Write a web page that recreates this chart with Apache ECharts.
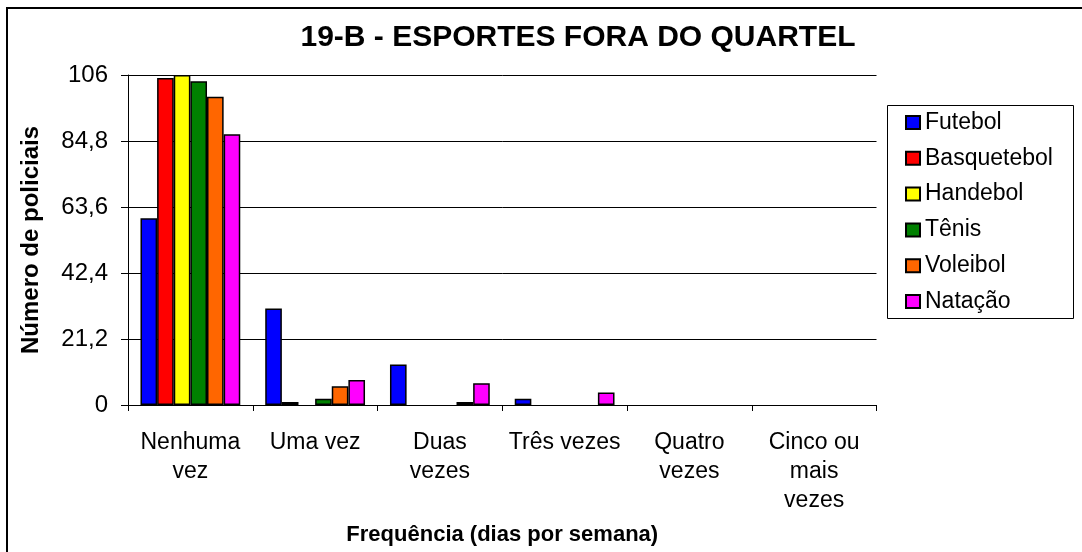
<!DOCTYPE html>
<html>
<head>
<meta charset="utf-8">
<script src="https://cdn.jsdelivr.net/npm/echarts@6/dist/echarts.min.js"></script>
<style>
  html, body { margin: 0; padding: 0; background: #fff; }
  #chart { width: 1082px; height: 552px; }
</style>
</head>
<body>
<div id="chart"></div>
<script>
// categorias (frequência) e séries por esporte
const categories = ["Nenhuma\nvez", "Uma vez", "Duas\nvezes", "Três vezes", "Quatro\nvezes", "Cinco ou\nmais\nvezes"];
const futebol = [60, 31, 13, 2, 0, 0];
const basquetebol = [105, 1, 0, 0, 0, 0];
const handebol = [106, 0, 0, 0, 0, 0];
const tenis = [104, 2, 0, 0, 0, 0];
const voleibol = [99, 6, 1, 0, 0, 0];
const natacao = [87, 8, 7, 4, 0, 0];
const yTicks = [0, 21.2, 42.4, 63.6, 84.8, 106];

const FONT = "Liberation Sans";

const seriesDefs = [
  { name: "Futebol", data: futebol, color: "#0000ff" },
  { name: "Basquetebol", data: basquetebol, color: "#ff0000" },
  { name: "Handebol", data: handebol, color: "#ffff00" },
  { name: "Tênis", data: tenis, color: "#008000" },
  { name: "Voleibol", data: voleibol, color: "#ff6600" },
  { name: "Natação", data: natacao, color: "#ff00ff" },
];

const chart = echarts.init(document.getElementById("chart"));

const option = {
  animation: false,
  backgroundColor: "#fff",
  textStyle: { fontFamily: FONT, color: "#000" },
  graphic: [
    {
      type: "rect",
      shape: { x: 7, y: 8, width: 1100, height: 600 },
      style: { fill: "none", stroke: "#000", lineWidth: 2 },
      z: 0,
    },
    {
      type: "rect",
      shape: { x: 887.5, y: 105.5, width: 186, height: 213 },
      style: { fill: "#fff", stroke: "#000", lineWidth: 1 },
      z: 0,
    },
    {
      type: "text",
      x: 578,
      y: 38,
      style: {
        text: "19-B - ESPORTES FORA DO QUARTEL",
        fontFamily: FONT,
        fontSize: 30,
        fontWeight: "bold",
        fill: "#000",
        textAlign: "center",
        textVerticalAlign: "middle",
      },
    },
  ],
  legend: {
    orient: "vertical",
    left: 905,
    top: 111,
    padding: 0,
    itemWidth: 14,
    itemHeight: 13,
    itemGap: 12.8,
    icon: "rect",
    textStyle: { fontFamily: FONT, fontSize: 23, lineHeight: 23, color: "#000" },
    data: seriesDefs.map((s) => s.name),
  },
  grid: { left: 128, right: 205.5, top: 75, bottom: 147, outerBoundsMode: "none" },
  xAxis: {
    type: "category",
    data: categories,
    name: "Frequência (dias por semana)",
    nameLocation: "middle",
    nameGap: 119,
    nameTextStyle: { fontFamily: FONT, fontSize: 22, fontWeight: "bold", color: "#000" },
    axisLine: { lineStyle: { color: "#000", width: 1 } },
    axisTick: { show: true, interval: 0, length: 6, lineStyle: { color: "#000" } },
    axisLabel: {
      interval: 0,
      fontFamily: FONT,
      fontSize: 23,
      lineHeight: 29,
      margin: 23,
      color: "#000",
    },
  },
  yAxis: {
    type: "value",
    min: yTicks[0],
    max: yTicks[yTicks.length - 1],
    interval: 21.2,
    name: "Número de policiais",
    nameLocation: "middle",
    nameRotate: 90,
    nameGap: 85,
    nameTextStyle: { fontFamily: FONT, fontSize: 24, fontWeight: "bold", color: "#000" },
    axisLine: { show: true, lineStyle: { color: "#000", width: 1 } },
    axisTick: { show: true, length: 7, lineStyle: { color: "#000" } },
    axisLabel: {
      fontFamily: FONT,
      fontSize: 24,
      margin: 20,
      color: "#000",
      formatter: (v) => (Math.round(v * 10) / 10).toString().replace(".", ","),
    },
    splitLine: { show: true, lineStyle: { color: "#000", width: 1 } },
  },
  series: seriesDefs.map((s) => ({
    name: s.name,
    type: "bar",
    data: s.data.map((v) => (v === 0 ? { value: 0, itemStyle: { borderWidth: 0 } } : v)),
    barGap: "0%",
    barCategoryGap: "20%",
    itemStyle: { color: s.color, borderColor: "#000", borderWidth: 1.5 },
  })),
};

chart.setOption(option);
</script>
</body>
</html>
